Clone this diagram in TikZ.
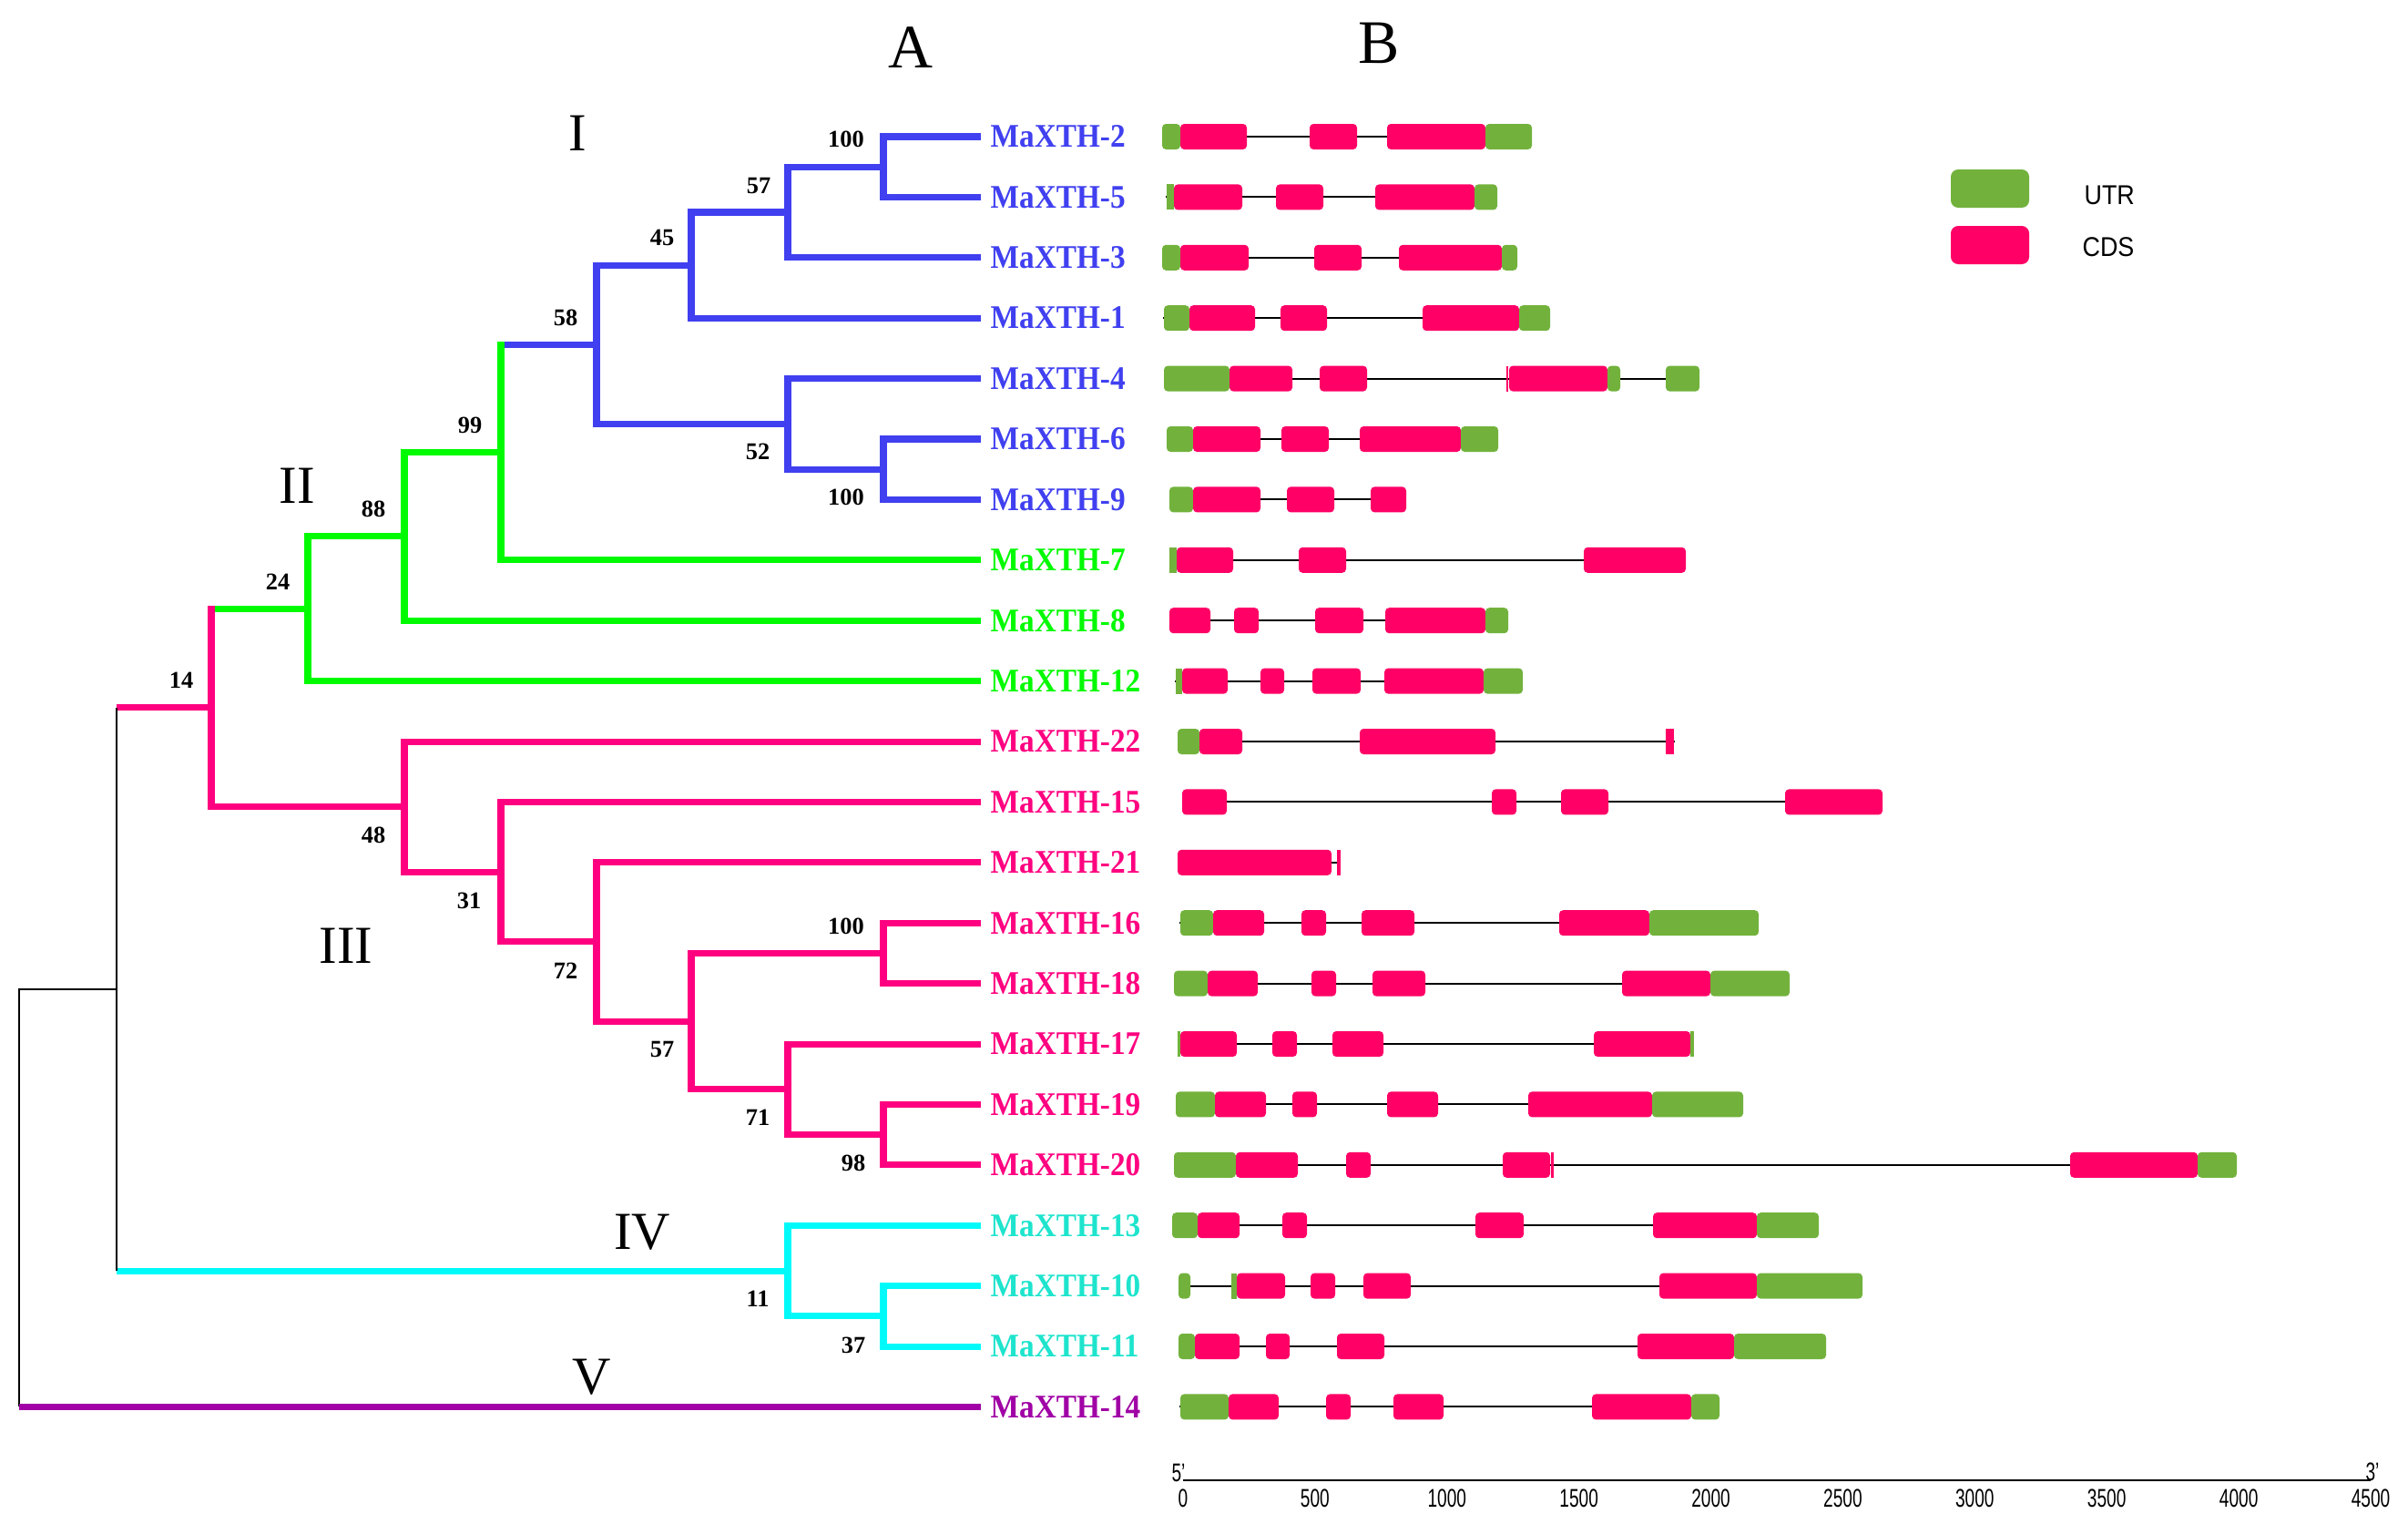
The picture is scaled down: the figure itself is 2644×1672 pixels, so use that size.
\documentclass[tikz,border=0pt]{standalone}
\usepackage{fontspec}
\setmainfont{Liberation Serif}
\setsansfont{Liberation Sans}
\definecolor{cBlue}{RGB}{64,64,240}
\definecolor{cGreen}{RGB}{0,250,0}
\definecolor{cPink}{RGB}{255,0,128}
\definecolor{cCyan}{RGB}{0,250,250}
\definecolor{cCyanT}{RGB}{30,228,205}
\definecolor{cPurple}{RGB}{160,0,165}
\definecolor{utrc}{RGB}{114,178,60}
\definecolor{cdsc}{RGB}{255,0,102}
\newcommand\gU[3]{\fill[utrc,rounded corners=1.2pt] (#2,#1-14) rectangle (#3,#1+14);}
\newcommand\gC[3]{\fill[cdsc,rounded corners=1.2pt] (#2,#1-14) rectangle (#3,#1+14);}
\newcommand\gUt[3]{\fill[utrc] (#2,#1-14) rectangle (#3,#1+14);}
\newcommand\gCt[3]{\fill[cdsc] (#2,#1-14) rectangle (#3,#1+14);}
\newcommand\gL[3]{\draw[intron] (#2,#1) -- (#3,#1);}
\begin{document}
\begin{tikzpicture}[x=0.1mm,y=-0.1mm,
  br/.style={line width=2pt},
  thinline/.style={line width=0.7pt,black},
  intron/.style={line width=0.55pt,black},
  lab/.style={anchor=west,inner sep=0pt,font=\fontsize{10.3}{12}\selectfont\bfseries,xscale=0.92},
  bs/.style={inner sep=0pt,font=\fontsize{7.5}{9}\selectfont\bfseries},
  clade/.style={inner sep=0pt,font=\fontsize{16.7}{20}\selectfont},
  panel/.style={inner sep=0pt,font=\fontsize{19.3}{23}\selectfont},
  legtext/.style={anchor=west,inner sep=0pt,font=\sffamily\fontsize{8.5}{10}\selectfont,xscale=0.9},
  ticklab/.style={inner sep=0pt,font=\sffamily\fontsize{8}{9}\selectfont,xscale=0.68}]
\useasboundingbox (0,0) rectangle (2644,1672);

% ---------- leaves ----------
\coordinate (L2)  at (1077,150.0);
\coordinate (L5)  at (1077,216.4);
\coordinate (L3)  at (1077,282.8);
\coordinate (L1)  at (1077,349.2);
\coordinate (L4)  at (1077,415.6);
\coordinate (L6)  at (1077,482.0);
\coordinate (L9)  at (1077,548.4);
\coordinate (L7)  at (1077,614.8);
\coordinate (L8)  at (1077,681.2);
\coordinate (L12) at (1077,747.6);
\coordinate (L22) at (1077,814.0);
\coordinate (L15) at (1077,880.4);
\coordinate (L21) at (1077,946.8);
\coordinate (L16) at (1077,1013.2);
\coordinate (L18) at (1077,1079.6);
\coordinate (L17) at (1077,1146.0);
\coordinate (L19) at (1077,1212.4);
\coordinate (L20) at (1077,1278.8);
\coordinate (L13) at (1077,1345.2);
\coordinate (L10) at (1077,1411.6);
\coordinate (L11) at (1077,1478.0);
\coordinate (L14) at (1077,1544.4);
% ---------- internal nodes ----------
\coordinate (na) at (970,183.2);
\coordinate (nb) at (865,233.0);
\coordinate (nc) at (759,291.1);
\coordinate (nd) at (970,515.2);
\coordinate (ne) at (865,465.4);
\coordinate (nf) at (655,378.25);
\coordinate (ng) at (550,496.5);
\coordinate (nh) at (444,588.85);
\coordinate (ni) at (338,668.2);
\coordinate (nj) at (970,1245.6);
\coordinate (nk) at (865,1195.8);
\coordinate (nl) at (970,1046.4);
\coordinate (nm) at (759,1121.1);
\coordinate (nn) at (655,1033.95);
\coordinate (no) at (550,957.2);
\coordinate (np) at (444,885.6);
\coordinate (nq) at (232,776.9);
\coordinate (nr) at (970,1444.8);
\coordinate (ns) at (865,1395.0);
\coordinate (R1) at (128,1086);
\coordinate (R0) at (21,1315.2);

% ---------- tree: clade I ----------
\draw[br,cBlue] (L2) -| (na) |- (L5);
\draw[br,cBlue] (na) -| (nb) |- (L3);
\draw[br,cBlue] (nb) -| (nc) |- (L1);
\draw[br,cBlue] (L6) -| (nd) |- (L9);
\draw[br,cBlue] (L4) -| (ne) |- (nd);
\draw[br,cBlue] (nc) -| (nf) |- (ne);
% ---------- clade II ----------
\draw[br,cBlue] (nf) -- (ng |- nf);
\draw[br,cGreen,line cap=rect] (ng |- nf) -- (ng |- L7);
\draw[br,cGreen] (ng |- L7) -- (L7);
\draw[br,cGreen] (ng) -| (nh) |- (L8);
\draw[br,cGreen] (nh) -| (ni) |- (L12);
\draw[br,cGreen] (ni) -- (nq |- ni);
% ---------- clade III ----------
\draw[br,cPink,line cap=rect] (nq |- ni) -- (nq |- np);
\draw[br,cPink] (nq |- np) -- (np);
\draw[br,cPink] (L22) -| (np) |- (no);
\draw[br,cPink] (L15) -| (no) |- (nn);
\draw[br,cPink] (L21) -| (nn) |- (nm);
\draw[br,cPink] (L16) -| (nl) |- (L18);
\draw[br,cPink] (nl) -| (nm) |- (nk);
\draw[br,cPink] (L17) -| (nk) |- (nj);
\draw[br,cPink] (L19) -| (nj) |- (L20);
% ---------- clade IV ----------
\draw[br,cCyan] (L13) -| (ns) |- (nr);
\draw[br,cCyan] (L10) -| (nr) |- (L11);
% ---------- root ----------
\draw[br,cPink] (R1 |- nq) -- (nq);
\draw[br,cCyan] (R1 |- ns) -- (ns);
\draw[thinline] (R1 |- nq) -- (R1 |- ns);
\draw[thinline] (R1) -| (R0) -- (R0 |- L14);
\draw[br,cPurple] (R0 |- L14) -- (L14);

% ---------- leaf labels ----------
\node[lab,text=cBlue] (t2)  at (1087,150.0) {MaXTH-2};
\node[lab,text=cBlue] (t5)  at (1087,216.4) {MaXTH-5};
\node[lab,text=cBlue] (t3)  at (1087,282.8) {MaXTH-3};
\node[lab,text=cBlue] (t1)  at (1087,349.2) {MaXTH-1};
\node[lab,text=cBlue] (t4)  at (1087,415.6) {MaXTH-4};
\node[lab,text=cBlue] (t6)  at (1087,482.0) {MaXTH-6};
\node[lab,text=cBlue] (t9)  at (1087,548.4) {MaXTH-9};
\node[lab,text=cGreen] (t7)  at (1087,614.8) {MaXTH-7};
\node[lab,text=cGreen] (t8)  at (1087,681.2) {MaXTH-8};
\node[lab,text=cGreen] (t12) at (1087,747.6) {MaXTH-12};
\node[lab,text=cPink] (t22) at (1087,814.0) {MaXTH-22};
\node[lab,text=cPink] (t15) at (1087,880.4) {MaXTH-15};
\node[lab,text=cPink] (t21) at (1087,946.8) {MaXTH-21};
\node[lab,text=cPink] (t16) at (1087,1013.2) {MaXTH-16};
\node[lab,text=cPink] (t18) at (1087,1079.6) {MaXTH-18};
\node[lab,text=cPink] (t17) at (1087,1146.0) {MaXTH-17};
\node[lab,text=cPink] (t19) at (1087,1212.4) {MaXTH-19};
\node[lab,text=cPink] (t20) at (1087,1278.8) {MaXTH-20};
\node[lab,text=cCyanT] (t13) at (1087,1345.2) {MaXTH-13};
\node[lab,text=cCyanT] (t10) at (1087,1411.6) {MaXTH-10};
\node[lab,text=cCyanT] (t11) at (1087,1478.0) {MaXTH-11};
\node[lab,text=cPurple] (t14) at (1087,1544.4) {MaXTH-14};

% ---------- bootstrap values ----------
\node[bs] (b1)  at (929,153)  {100};
\node[bs] (b2)  at (833,204)  {57};
\node[bs] (b3)  at (727,261)  {45};
\node[bs] (b4)  at (621,349)  {58};
\node[bs] (b5)  at (516,467)  {99};
\node[bs] (b6)  at (410,559)  {88};
\node[bs] (b7)  at (305,639)  {24};
\node[bs] (b8)  at (199,747)  {14};
\node[bs] (b9)  at (832,496)  {52};
\node[bs] (b10) at (929,546)  {100};
\node[bs] (b11) at (410,917)  {48};
\node[bs] (b12) at (515,989)  {31};
\node[bs] (b13) at (621,1066) {72};
\node[bs] (b14) at (727,1152) {57};
\node[bs] (b15) at (929,1017) {100};
\node[bs] (b16) at (832,1227) {71};
\node[bs] (b17) at (937,1277) {98};
\node[bs] (b18) at (832,1426) {11};
\node[bs] (b19) at (937,1477) {37};

% ---------- clade and panel labels ----------
\node[clade] (cI)   at (634,146)  {I};
\node[clade] (cII)  at (326,533)  {II};
\node[clade] (cIII) at (380,1038) {III};
\node[clade] (cIV)  at (705,1353) {IV};
\node[clade] (cV)   at (650,1512) {V};
\node[panel] (pA)   at (1000,52)  {A};
\node[panel] (pB)   at (1514,47)  {B};

% ---------- gene structures ----------
% MaXTH-2
\gL{150.0}{1276}{1682}
\gU{150.0}{1276}{1296}\gC{150.0}{1296}{1369}\gC{150.0}{1438}{1490}\gC{150.0}{1523}{1631}\gU{150.0}{1631}{1682}
% MaXTH-5
\gL{216.4}{1280}{1644}
\gUt{216.4}{1281}{1289}\gC{216.4}{1289}{1364}\gC{216.4}{1401}{1453}\gC{216.4}{1510}{1619}\gU{216.4}{1619}{1644}
% MaXTH-3
\gL{282.8}{1276}{1666}
\gU{282.8}{1276}{1296}\gC{282.8}{1296}{1371}\gC{282.8}{1443}{1495}\gC{282.8}{1536}{1649}\gU{282.8}{1649}{1666}
% MaXTH-1
\gL{349.2}{1277}{1702}
\gU{349.2}{1278}{1306}\gC{349.2}{1306}{1378}\gC{349.2}{1406}{1457}\gC{349.2}{1562}{1668}\gU{349.2}{1668}{1702}
% MaXTH-4
\gL{415.6}{1278}{1866}
\gU{415.6}{1278}{1350}\gC{415.6}{1350}{1419}\gC{415.6}{1449}{1501}\gCt{415.6}{1654}{1656}\gC{415.6}{1657}{1765}\gU{415.6}{1765}{1779}\gU{415.6}{1829}{1866}
% MaXTH-6
\gL{482.0}{1281}{1645}
\gU{482.0}{1281}{1310}\gC{482.0}{1310}{1384}\gC{482.0}{1407}{1459}\gC{482.0}{1493}{1604}\gU{482.0}{1604}{1645}
% MaXTH-9
\gL{548.4}{1284}{1544}
\gU{548.4}{1284}{1310}\gC{548.4}{1310}{1384}\gC{548.4}{1413}{1465}\gC{548.4}{1505}{1544}
% MaXTH-7
\gL{614.8}{1284}{1851}
\gUt{614.8}{1284}{1292}\gC{614.8}{1292}{1354}\gC{614.8}{1426}{1478}\gC{614.8}{1739}{1851}
% MaXTH-8
\gL{681.2}{1284}{1656}
\gC{681.2}{1284}{1329}\gC{681.2}{1355}{1382}\gC{681.2}{1444}{1497}\gC{681.2}{1521}{1631}\gU{681.2}{1631}{1656}
% MaXTH-12
\gL{747.6}{1290}{1672}
\gUt{747.6}{1291}{1298}\gC{747.6}{1298}{1348}\gC{747.6}{1384}{1410}\gC{747.6}{1441}{1494}\gC{747.6}{1520}{1629}\gU{747.6}{1629}{1672}
% MaXTH-22
\gL{814.0}{1293}{1839}
\gU{814.0}{1293}{1317}\gC{814.0}{1317}{1364}\gC{814.0}{1493}{1642}\gCt{814.0}{1829}{1838}
% MaXTH-15
\gL{880.4}{1298}{2067}
\gC{880.4}{1298}{1347}\gC{880.4}{1638}{1665}\gC{880.4}{1714}{1766}\gC{880.4}{1960}{2067}
% MaXTH-21
\gL{946.8}{1293}{1472}
\gC{946.8}{1293}{1462}\gCt{946.8}{1468}{1472}
% MaXTH-16
\gL{1013.2}{1295}{1931}
\gU{1013.2}{1296}{1332}\gC{1013.2}{1332}{1388}\gC{1013.2}{1429}{1456}\gC{1013.2}{1495}{1553}\gC{1013.2}{1712}{1811}\gU{1013.2}{1811}{1931}
% MaXTH-18
\gL{1079.6}{1289}{1965}
\gU{1079.6}{1289}{1326}\gC{1079.6}{1326}{1381}\gC{1079.6}{1440}{1467}\gC{1079.6}{1507}{1565}\gC{1079.6}{1781}{1878}\gU{1079.6}{1878}{1965}
% MaXTH-17
\gL{1146.0}{1293}{1860}
\gUt{1146.0}{1293}{1296}\gC{1146.0}{1296}{1358}\gC{1146.0}{1397}{1424}\gC{1146.0}{1463}{1519}\gC{1146.0}{1750}{1856}\gUt{1146.0}{1856}{1860}
% MaXTH-19
\gL{1212.4}{1291}{1914}
\gU{1212.4}{1291}{1334}\gC{1212.4}{1334}{1390}\gC{1212.4}{1419}{1446}\gC{1212.4}{1523}{1579}\gC{1212.4}{1678}{1814}\gU{1212.4}{1814}{1914}
% MaXTH-20
\gL{1278.8}{1289}{2456}
\gU{1278.8}{1289}{1357}\gC{1278.8}{1357}{1425}\gC{1278.8}{1478}{1505}\gC{1278.8}{1650}{1702}\gCt{1278.8}{1703}{1706}\gC{1278.8}{2273}{2413}\gU{1278.8}{2413}{2456}
% MaXTH-13
\gL{1345.2}{1287}{1997}
\gU{1345.2}{1287}{1315}\gC{1345.2}{1315}{1361}\gC{1345.2}{1408}{1435}\gC{1345.2}{1620}{1673}\gC{1345.2}{1815}{1929}\gU{1345.2}{1929}{1997}
% MaXTH-10
\gL{1411.6}{1294}{2045}
\gU{1411.6}{1294}{1307}\gUt{1411.6}{1352}{1358}\gC{1411.6}{1358}{1411}\gC{1411.6}{1439}{1466}\gC{1411.6}{1497}{1549}\gC{1411.6}{1822}{1929}\gU{1411.6}{1929}{2045}
% MaXTH-11
\gL{1478.0}{1294}{2005}
\gU{1478.0}{1294}{1312}\gC{1478.0}{1312}{1361}\gC{1478.0}{1390}{1416}\gC{1478.0}{1468}{1520}\gC{1478.0}{1798}{1904}\gU{1478.0}{1904}{2005}
% MaXTH-14
\gL{1544.4}{1295}{1888}
\gU{1544.4}{1296}{1349}\gC{1544.4}{1349}{1404}\gC{1544.4}{1456}{1483}\gC{1544.4}{1530}{1585}\gC{1544.4}{1748}{1857}\gU{1544.4}{1857}{1888}

% ---------- legend ----------
\fill[utrc,rounded corners=2.3pt] (2142,186) rectangle (2228,228);
\fill[cdsc,rounded corners=2.3pt] (2142,248) rectangle (2228,290);
\node[legtext] (lu) at (2288,214) {UTR};
\node[legtext] (lc) at (2286,271) {CDS};

% ---------- scale axis ----------
\coordinate (ax0) at (1299,1625);
\coordinate (ax1) at (2603,1625);
\draw[line width=0.7pt] (ax0) -- (ax1);
\node[ticklab] (p5) at (1294,1617) {5'};
\node[ticklab] (p3) at (2605,1616) {3'};
\foreach \v in {0,500,...,4500}
  \node[ticklab] (tk\v) at ({1299+0.28978*\v},1645) {\v};
\end{tikzpicture}
\end{document}
